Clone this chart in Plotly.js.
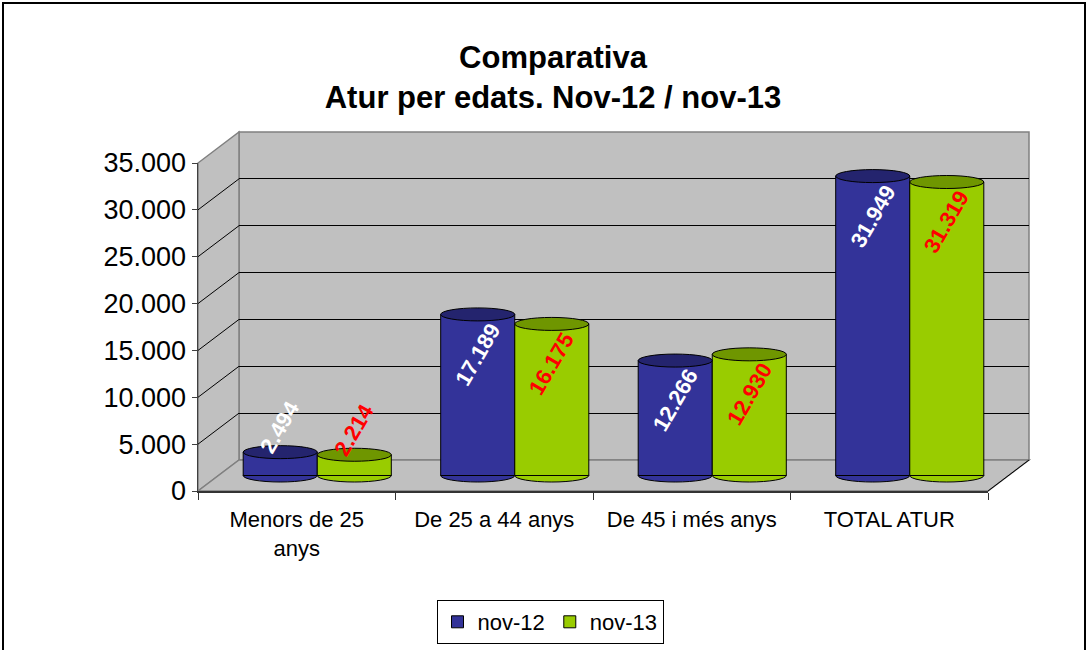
<!DOCTYPE html>
<html>
<head>
<meta charset="utf-8">
<script src="https://cdn.plot.ly/plotly-3.0.1.min.js"></script>
<style>html,body{margin:0;padding:0;background:#fff;}#chart{width:1091px;height:650px;}</style>
</head>
<body>
<div id="chart"></div>
<script>
// ---- data ----
const categories = ['Menors de 25<br>anys', 'De 25 a 44 anys', 'De 45 i més anys', 'TOTAL ATUR'];
const seriesNames = ['nov-12', 'nov-13'];
const nov12 = [2494, 17189, 12266, 31949];
const nov13 = [2214, 16175, 12930, 31319];
const yTicks = [0, 5000, 10000, 15000, 20000, 25000, 30000, 35000];
const titleText = 'Comparativa<br>Atur per edats. Nov-12 / nov-13';

// ---- styling / geometry ----
const W = 1091, H = 650;
const FONT = 'Arial, "Liberation Sans", sans-serif';
const px = x => x / W;
const py = y => 1 - y / H;
const YMAX = 35000;
const F = {x0: 198, x1: 988, y0: 491, y1: 163};        // front plane
const D = {dx: 41, dy: -31};                             // depth offset
const B = {x0: F.x0 + D.dx, x1: F.x1 + D.dx, y0: F.y0 + D.dy, y1: F.y1 + D.dy}; // back wall
const M = {x0: F.x0 + D.dx / 2, x1: F.x1 + D.dx / 2, y0: F.y0 + D.dy / 2, y1: F.y1 + D.dy / 2}; // bar plane
const unitsPerPx = YMAX / (M.y0 - M.y1);
const EXT = 16; // px of room below bar base
const BARGAP = 0.25;
const halfW = (1 - BARGAP) / 4;
const offsets = [-halfW, halfW];
const colors = ['#333399', '#99CC00'];
const topColors = ['#24246e', '#6f9600'];
const labelColors = ['#FFFFFF', '#FF0000'];
const ellHalf = 6.5 * unitsPerPx;

const fmt = v => String(v).replace(/\B(?=(\d{3})+(?!\d))/g, '.');

const nulls = categories.map(() => null);
const data = [
  {type: 'scatter', mode: 'markers', x: categories, y: nulls, xaxis: 'x', yaxis: 'y', showlegend: false, hoverinfo: 'skip'},
  {type: 'scatter', mode: 'markers', x: categories, y: nulls, xaxis: 'x2', yaxis: 'y2', showlegend: false, hoverinfo: 'skip'},
  {type: 'bar', name: seriesNames[0], x: categories, y: nov12, xaxis: 'x3', yaxis: 'y3',
   marker: {color: colors[0], line: {color: '#000', width: 1}}},
  {type: 'bar', name: seriesNames[1], x: categories, y: nov13, xaxis: 'x3', yaxis: 'y3',
   marker: {color: colors[1], line: {color: '#000', width: 1}}}
];

const shapes = [];
const poly = pts => 'M ' + pts.map(p => px(p[0]) + ',' + py(p[1])).join(' L ') + ' Z';
// back wall
shapes.push({type: 'rect', xref: 'paper', yref: 'paper', layer: 'below',
  x0: px(B.x0), x1: px(B.x1), y0: py(B.y0), y1: py(B.y1),
  fillcolor: '#C0C0C0', line: {color: '#808080', width: 1.5}});
// side wall
shapes.push({type: 'path', xref: 'paper', yref: 'paper', layer: 'below',
  path: poly([[F.x0, F.y0], [F.x0, F.y1], [B.x0, B.y1], [B.x0, B.y0]]),
  fillcolor: '#C0C0C0', line: {color: '#808080', width: 1.5}});
// floor
shapes.push({type: 'path', xref: 'paper', yref: 'paper', layer: 'below',
  path: poly([[F.x0, F.y0], [F.x1, F.y0], [B.x1, B.y0], [B.x0, B.y0]]),
  fillcolor: '#C0C0C0', line: {color: '#808080', width: 1.5}});
shapes.push({type: 'line', xref: 'paper', yref: 'paper', layer: 'below',
  x0: px(F.x1), y0: py(F.y0), x1: px(B.x1), y1: py(B.y0), line: {color: '#000', width: 1}});
// side wall gridlines
yTicks.slice(1, -1).forEach(v => {
  const yf = F.y0 - (F.y0 - F.y1) * v / YMAX;
  const yb = B.y0 - (B.y0 - B.y1) * v / YMAX;
  shapes.push({type: 'line', xref: 'paper', yref: 'paper', layer: 'below',
    x0: px(F.x0), y0: py(yf), x1: px(B.x0), y1: py(yb), line: {color: '#000', width: 1}});
});
// cylinder ends
[nov12, nov13].forEach((vals, s) => {
  vals.forEach((v, i) => {
    const xa = i + offsets[s] - halfW, xb = i + offsets[s] + halfW;
    shapes.push({type: 'circle', xref: 'x3', yref: 'y3', layer: 'below',
      x0: xa, x1: xb, y0: -ellHalf, y1: ellHalf,
      fillcolor: colors[s], line: {color: '#000', width: 1}});
    shapes.push({type: 'circle', xref: 'x3', yref: 'y3', layer: 'above',
      x0: xa, x1: xb, y0: v - ellHalf, y1: v + ellHalf,
      fillcolor: topColors[s], line: {color: '#000', width: 1}});
  });
});
// outer frame
shapes.push({type: 'rect', xref: 'paper', yref: 'paper', layer: 'above',
  x0: px(3), x1: px(1085), y0: -0.05, y1: py(3), line: {color: '#000', width: 2}});

const annotations = [];
[nov12, nov13].forEach((vals, s) => {
  vals.forEach((v, i) => {
    const small = v / unitsPerPx < 70;
    annotations.push({xref: 'x3', yref: 'y3', x: i + offsets[s], y: v,
      text: fmt(v), showarrow: false, textangle: -60,
      xanchor: 'center', yanchor: small ? 'bottom' : 'top', yshift: small ? -8 : -2,
      font: {family: FONT, size: 22, color: labelColors[s], weight: 700}});
  });
});

const layout = {
  width: W, height: H,
  margin: {l: 0, r: 0, t: 0, b: 0},
  paper_bgcolor: '#FFFFFF', plot_bgcolor: 'rgba(0,0,0,0)',
  separators: ',.',
  font: {family: FONT, color: '#000'},
  title: {text: titleText, x: px(553), xanchor: 'center', y: py(68), yanchor: 'middle',
          xref: 'paper', yref: 'paper', font: {family: FONT, size: 31, weight: 700, color: '#000'}},
  barmode: 'group', bargap: BARGAP, bargroupgap: 0,
  showlegend: true,
  legend: {orientation: 'h', x: px(550), xanchor: 'center', y: py(600), yanchor: 'top',
           bordercolor: '#000', borderwidth: 1, bgcolor: '#FFFFFF',
           font: {family: FONT, size: 22, color: '#000'}, traceorder: 'normal', itemwidth: 30},
  xaxis: {domain: [px(F.x0), px(F.x1)], anchor: 'y', type: 'category', range: [-0.5, 3.5],
          tickson: 'boundaries', ticks: 'outside', ticklen: 7, tickcolor: '#333', tickwidth: 1,
          showline: true, linecolor: '#333', linewidth: 2, showgrid: false, zeroline: false,
          tickfont: {family: FONT, size: 22, color: '#000'}, ticklabelstandoff: 8, fixedrange: true},
  yaxis: {domain: [py(F.y0), py(F.y1)], anchor: 'x', range: [0, YMAX], tickvals: yTicks,
          tickformat: ',d', ticks: 'outside', ticklen: 5, tickcolor: '#404040',
          showline: true, linecolor: '#404040', linewidth: 1.5, showgrid: false, zeroline: false,
          tickfont: {family: FONT, size: 27, color: '#000'}, fixedrange: true},
  xaxis2: {domain: [px(B.x0), px(B.x1)], anchor: 'y2', type: 'category', range: [-0.5, 3.5],
           showgrid: false, showticklabels: false, showline: false, zeroline: false, ticks: '', fixedrange: true},
  yaxis2: {domain: [py(B.y0), py(B.y1)], anchor: 'x2', range: [0, YMAX], tickvals: yTicks.slice(1, -1),
           showgrid: true, gridcolor: '#000', gridwidth: 1, showticklabels: false, showline: false,
           zeroline: false, ticks: '', fixedrange: true},
  xaxis3: {domain: [px(M.x0), px(M.x1)], anchor: 'y3', type: 'category', range: [-0.5, 3.5],
           visible: false, fixedrange: true},
  yaxis3: {domain: [py(M.y0 + EXT), py(M.y1)], anchor: 'x3', range: [-EXT * unitsPerPx, YMAX],
           visible: false, fixedrange: true},
  shapes: shapes,
  annotations: annotations
};

Plotly.newPlot('chart', data, layout, {displayModeBar: false, staticPlot: true});
</script>
</body>
</html>
